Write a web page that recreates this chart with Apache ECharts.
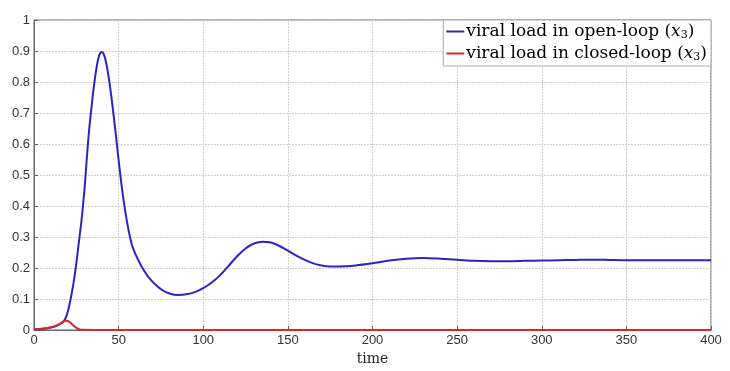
<!DOCTYPE html>
<html><head><meta charset="utf-8">
<script src="https://cdn.jsdelivr.net/npm/echarts@6/dist/echarts.min.js"></script>
<style>html,body{margin:0;padding:0;background:#fff}#c{width:730px;height:371px}</style>
</head><body><div id="c"></div>
<script>
const xTicks = [0,50,100,150,200,250,300,350,400];
const yTicks = [0,0.1,0.2,0.3,0.4,0.5,0.6,0.7,0.8,0.9,1];
const openT = [0,5,10,13,15,17,18,19,20,21,22,23,24,25,26,27,28,29,30,31,32,33,34,35,36,37,38,39,40,41,42,43,44,45,46,47,48,49,50,52,54,56,58,60,62,64,68,72,76,80,85,90,95,100,105,110,115,120,125,130,135,140,145,150,155,160,165,170,175,180,190,200,210,220,230,240,250,260,270,280,290,300,310,320,330,340,350,375,400];
const openV = [0.002,0.004,0.008,0.013,0.018,0.025,0.031,0.043,0.06,0.083,0.11,0.14,0.175,0.215,0.26,0.305,0.35,0.405,0.465,0.54,0.61,0.67,0.72,0.77,0.812,0.848,0.876,0.892,0.897,0.892,0.877,0.852,0.82,0.782,0.74,0.694,0.647,0.597,0.548,0.455,0.38,0.318,0.272,0.244,0.221,0.201,0.168,0.145,0.128,0.118,0.113,0.115,0.122,0.135,0.153,0.177,0.207,0.238,0.263,0.279,0.285,0.282,0.271,0.256,0.24,0.226,0.215,0.208,0.205,0.205,0.208,0.215,0.224,0.23,0.232,0.23,0.227,0.223,0.222,0.222,0.223,0.224,0.225,0.226,0.227,0.226,0.225,0.225,0.225];
const closedT = [0,5,10,13,15,17,18,19,20,21,22,23,24,25,26,27,28,30,35,100,200,300,400];
const closedV = [0.002,0.004,0.009,0.014,0.019,0.026,0.029,0.03,0.029,0.026,0.021,0.016,0.011,0.007,0.004,0.002,0.001,0.0005,0,0,0,0,0];
const names = ['viral load in open-loop','viral load in closed-loop'];

const chart = echarts.init(document.getElementById('c'));
const pair = (t,v)=>t.map((x,i)=>[x,v[i]]);
const serif = 'DejaVu Serif';
const rich = {
  n:{fontFamily:serif,fontSize:17,color:'#000'},
  i:{fontFamily:serif,fontStyle:'italic',fontSize:17,color:'#000'},
  s:{fontFamily:serif,fontSize:11,color:'#000',padding:[8,0,0,0]}
};
chart.setOption({
  animation:false,
  grid:{left:34,right:19,top:20,bottom:41,show:true,borderColor:'#666',borderWidth:1},
  legend:{
    right:19,top:20,orient:'vertical',itemGap:4,
    backgroundColor:'#fff',borderColor:'#aaa',borderWidth:1,padding:[3,4,3,3],
    icon:'rect',itemWidth:18,itemHeight:2,
    data:names,
    formatter:n=>'{n|'+n+' (}{i|x}{s|3}{n|)}',
    textStyle:{rich:rich,padding:[0,0,0,-3]}
  },
  xAxis:{type:'value',min:0,max:400,interval:50,
    name:'time',nameLocation:'middle',nameGap:18,
    nameTextStyle:{fontFamily:serif,fontSize:14,color:'#222'},
    axisLine:{show:true,lineStyle:{color:'#666'}},
    axisTick:{show:true,inside:true,length:4,lineStyle:{color:'#666'}},
    axisLabel:{fontFamily:'Liberation Sans',fontSize:13,color:'#333',margin:4},
    splitLine:{show:true,lineStyle:{color:'#cfcfcf',type:[2,1]}}
  },
  yAxis:{type:'value',min:0,max:1,interval:0.1,
    axisLine:{show:true,lineStyle:{color:'#666'}},
    axisTick:{show:true,inside:true,length:4,lineStyle:{color:'#666'}},
    axisLabel:{fontFamily:'Liberation Sans',fontSize:13,color:'#333',margin:4,
      formatter:v=>String(Math.round(v*10)/10)},
    splitLine:{show:true,lineStyle:{color:'#cfcfcf',type:[2,1]}}
  },
  series:[
    {name:names[0],type:'line',data:pair(openT,openV),smooth:0.25,showSymbol:false,
     lineStyle:{color:'#2626c8',width:2},itemStyle:{color:'#2626c8'}},
    {name:names[1],type:'line',data:pair(closedT,closedV),smooth:0.25,showSymbol:false,
     lineStyle:{color:'#e02424',width:2},itemStyle:{color:'#e02424'}}
  ]
});
</script></body></html>
